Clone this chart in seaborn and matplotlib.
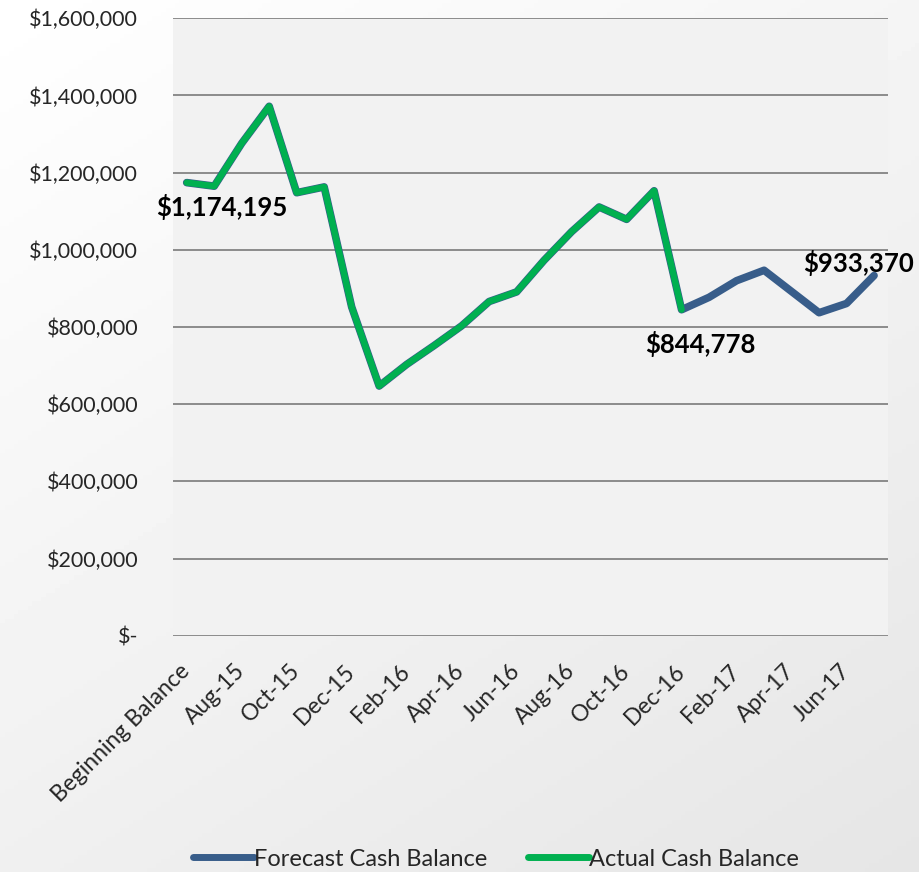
import numpy as np
import pandas as pd
import matplotlib
matplotlib.use("Agg")
import matplotlib.pyplot as plt
import seaborn as sns
from matplotlib.ticker import FuncFormatter

months = ["Beginning Balance", "Jul-15", "Aug-15", "Sep-15", "Oct-15", "Nov-15", "Dec-15",
          "Jan-16", "Feb-16", "Mar-16", "Apr-16", "May-16", "Jun-16", "Jul-16", "Aug-16",
          "Sep-16", "Oct-16", "Nov-16", "Dec-16", "Jan-17", "Feb-17", "Mar-17", "Apr-17",
          "May-17", "Jun-17", "Jul-17"]
forecast = [1174195, 1165000, 1276000, 1372000, 1148000, 1163000, 852000,
            647000, 703000, 752000, 803000, 866000, 891000, 973000, 1047000,
            1111000, 1079000, 1153000, 844778, 877000, 920000, 947000, 892000,
            837000, 861000, 933370]
actual = forecast[:19]  # actuals through Dec-16
labeled = {"Beginning Balance": (35, -24), "Dec-16": (19, -34), "Jul-17": (-16, 13)}

sns.set_theme(style="white")
plt.rcParams["font.family"] = ["Lato", "DejaVu Sans"]

fig = plt.figure(figsize=(9.2, 8.72), dpi=100)

# soft gradient background like the slide
bg = fig.add_axes([0, 0, 1, 1], zorder=-10)
yy, xx = np.mgrid[0:1:200j, 0:1:200j]
shade = 1.0 - 0.10 * (0.6 * yy + 0.4 * xx)
bg.imshow(shade, cmap="gray", vmin=0, vmax=1, aspect="auto", extent=[0, 1, 0, 1])
bg.axis("off")

ax = fig.add_axes([0.188, 0.271, 0.777, 0.708])
ax.set_facecolor("#F2F2F2")

df_f = pd.DataFrame({"Month": months, "Balance": forecast})
df_a = pd.DataFrame({"Month": months[:len(actual)], "Balance": actual})
sns.lineplot(data=df_f, x="Month", y="Balance", sort=False, ax=ax, color="#385D8A",
             linewidth=5.5, label="Forecast Cash Balance", zorder=3)
sns.lineplot(data=df_a, x="Month", y="Balance", sort=False, ax=ax, color="#00B050",
             linewidth=4.6, label="Actual Cash Balance", zorder=4)

for m, (dx, dy) in labeled.items():
    i = months.index(m)
    ax.annotate(f"${forecast[i]:,.0f}", (i, forecast[i]), xytext=(dx, dy),
                textcoords="offset pixels", ha="center", va="center",
                fontsize=18.5, fontweight="bold", color="black", zorder=5)

ax.set_xlim(-0.5, len(months) - 0.5)
ax.set_ylim(0, 1600000)
ax.set_yticks(np.arange(0, 1600001, 200000))
ax.yaxis.set_major_formatter(FuncFormatter(lambda v, p: "$-" if v == 0 else f"${v:,.0f}"))
ax.set_xticks(range(0, len(months), 2))
ax.set_xticklabels(months[::2], rotation=45, ha="right", va="center", rotation_mode="anchor")
ax.grid(axis="y", color="#8C8C8C", linewidth=1.4)
ax.set_axisbelow(True)
for s in ax.spines.values():
    s.set_visible(False)
ax.tick_params(axis="y", length=5, color="#8C8C8C", width=1.4, labelsize=15.5, pad=20)
ax.tick_params(axis="x", length=0, labelsize=16.5, pad=23)
ax.set_xlabel("")
ax.set_ylabel("")

leg = ax.legend(loc="center", bbox_to_anchor=(0.452, -0.362), ncol=2, frameon=False,
                fontsize=17, handlelength=2.6, handletextpad=0.0, columnspacing=1.7)
for h in leg.get_lines():
    h.set_linewidth(5)
    h.set_solid_capstyle("round")

fig.savefig("out.png", dpi=100)
